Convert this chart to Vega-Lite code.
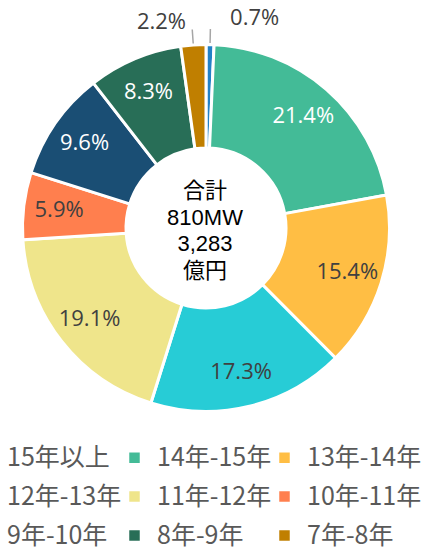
{
  "$schema": "https://vega.github.io/schema/vega-lite/v6.json",
  "width": 412,
  "height": 456,
  "autosize": "none",
  "padding": {"left": 0, "top": 0, "right": 30, "bottom": 92},
  "background": "white",
  "config": {"view": {"stroke": null}},
  "data": {
    "values": [
      {"cat": "15年以上", "value": 0.7, "label": "0.7%", "idx": 1},
      {"cat": "14年-15年", "value": 21.4, "label": "21.4%", "idx": 2},
      {"cat": "13年-14年", "value": 15.4, "label": "15.4%", "idx": 3},
      {"cat": "12年-13年", "value": 17.3, "label": "17.3%", "idx": 4},
      {"cat": "11年-12年", "value": 19.1, "label": "19.1%", "idx": 5},
      {"cat": "10年-11年", "value": 5.9, "label": "5.9%", "idx": 6},
      {"cat": "9年-10年", "value": 9.6, "label": "9.6%", "idx": 7},
      {"cat": "8年-9年", "value": 8.3, "label": "8.3%", "idx": 8},
      {"cat": "7年-8年", "value": 2.2, "label": "2.2%", "idx": 9}
    ]
  },
  "encoding": {
    "theta": {"field": "value", "type": "quantitative", "stack": true},
    "order": {"field": "idx", "type": "quantitative"}
  },
  "layer": [
    {
      "mark": {"type": "arc", "outerRadius": 183.5, "innerRadius": 80, "stroke": "white", "strokeWidth": 3},
      "encoding": {
        "color": {
          "field": "cat", "type": "nominal",
          "scale": {
            "domain": ["15年以上", "14年-15年", "13年-14年", "12年-13年", "11年-12年", "10年-11年", "9年-10年", "8年-9年", "7年-8年"],
            "range": ["#2281c6", "#43bb97", "#ffbe44", "#27ccd6", "#efe58b", "#ff7f4e", "#1a4e74", "#286e57", "#c07f00"]
          },
          "legend": {
            "title": null,
            "orient": "none",
            "legendX": -28,
            "legendY": 445,
            "columns": 3,
            "direction": "horizontal",
            "gridAlign": "all",
            "columnPadding": -1,
            "rowPadding": 13,
            "symbolType": "square",
            "symbolSize": 110,
            "symbolStrokeWidth": 0,
            "labelOffset": 10,
            "labelFont": "Noto Sans CJK JP",
            "labelFontSize": 25,
            "labelColor": "#595959",
            "labelLimit": 300
          }
        }
      }
    },
    {
      "mark": {"type": "arc", "outerRadius": 199, "innerRadius": 185, "padAngle": 1, "fill": null, "stroke": "#a6a6a6", "strokeWidth": 1.5},
      "encoding": {
        "opacity": {"condition": {"test": "datum.value < 3", "value": 1}, "value": 0}
      }
    },
    {
      "mark": {"type": "text", "radius": 148, "font": "Open Sans", "fontSize": 22, "baseline": "middle", "align": "center"},
      "encoding": {
        "text": {"field": "label"},
        "color": {"condition": {"test": "indexof(['14年-15年','9年-10年','8年-9年'], datum.cat) >= 0", "value": "white"}, "value": "#404040"},
        "opacity": {"condition": {"test": "datum.value < 3", "value": 0}, "value": 1}
      }
    },
    {
      "mark": {"type": "text", "radius": 210, "dx": 44, "font": "Open Sans", "fontSize": 22, "baseline": "middle", "align": "center", "color": "#404040"},
      "encoding": {
        "text": {"field": "label"},
        "opacity": {"condition": {"test": "datum.cat === '15年以上'", "value": 1}, "value": 0}
      }
    },
    {
      "mark": {"type": "text", "radius": 210, "dx": -30, "dy": 3, "font": "Open Sans", "fontSize": 22, "baseline": "middle", "align": "center", "color": "#404040"},
      "encoding": {
        "text": {"field": "label"},
        "opacity": {"condition": {"test": "datum.cat === '7年-8年'", "value": 1}, "value": 0}
      }
    },
    {
      "data": {"values": [{"t": "center"}]},
      "mark": {"type": "text", "font": "Liberation Sans, Noto Sans CJK JP", "fontSize": 22, "lineHeight": 26.7, "baseline": "middle", "align": "center", "color": "#000000", "dx": -1, "dy": -37},
      "encoding": {
        "theta": null,
        "order": null,
        "text": {"value": ["合計", "810MW", "3,283", "億円"]}
      }
    }
  ]
}
